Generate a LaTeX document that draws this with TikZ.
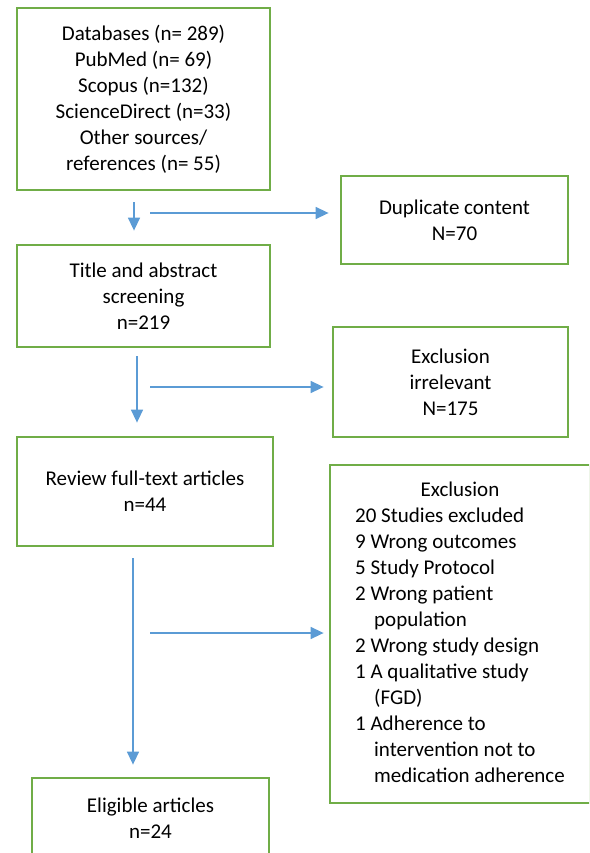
\documentclass[tikz,border=0pt]{standalone}
\usepackage{fontspec}
\setmainfont{Carlito}
\usetikzlibrary{arrows.meta}

\definecolor{boxgreen}{RGB}{112,173,71}
\definecolor{arrowblue}{RGB}{91,155,213}

\begin{document}
\begin{tikzpicture}[
    x=1pt, y=-1pt, >={Triangle[length=13pt,width=12pt]},
    stage/.style={draw=boxgreen, line width=2.8pt, align=center,
        font=\fontsize{21}{26}\selectfont},
    flow/.style={->, draw=arrowblue, line width=1.5pt}
]
    \useasboundingbox (0,0) rectangle (589,853);
    \clip (0,0) rectangle (589,853);

    % main column
    \node[stage, minimum width=253pt, minimum height=182pt] (db) at (143.5,99)
        {Databases (n= 289)\\PubMed (n= 69)\\Scopus (n=132)\\ScienceDirect (n=33)\\Other sources/\\references (n= 55)};
    \node[stage, minimum width=253pt, minimum height=102pt] (title) at (143.5,296)
        {Title and abstract\\screening\\n=219};
    \node[stage, minimum width=256pt, minimum height=109pt] (review) at (145,491.5)
        {Review full-text articles\\n=44};
    \node[stage, minimum width=237pt, minimum height=80pt] (elig) at (150.5,818)
        {Eligible articles\\n=24};

    % exclusions
    \node[stage, minimum width=227pt, minimum height=88pt] (dup) at (454.5,220)
        {Duplicate content\\N=70};
    \node[stage, minimum width=235pt, minimum height=110pt] (irr) at (450.5,382)
        {Exclusion\\irrelevant\\N=175};
    \node[stage, minimum width=260pt, minimum height=338pt] (excl) at (460,634)
        {\begin{tabular}{@{}l@{}}
            \multicolumn{1}{@{}c@{}}{Exclusion}\\
            20 Studies excluded\\
            9 Wrong outcomes\\
            5 Study Protocol\\
            2 Wrong patient\\
            \hspace*{19pt}population\\
            2 Wrong study design\\
            1 A qualitative study\\
            \hspace*{19pt}(FGD)\\
            1 Adherence to\\
            \hspace*{19pt}intervention not to\\
            \hspace*{19pt}medication adherence
        \end{tabular}};

    % side branches start here
    \coordinate (b1) at (150,213);
    \coordinate (b2) at (150,387);
    \coordinate (b3) at (150,633);

    \draw[flow, shorten <=11pt, shorten >=13pt] ([xshift=-9.5pt]db.south) -- ([xshift=-9.5pt]title.north);
    \draw[flow, shorten <=8pt, shorten >=13pt] ([xshift=-6.5pt]title.south) -- ([xshift=-6.5pt]title.south |- review.north);
    \draw[flow, shorten <=11pt, shorten >=12pt] ([xshift=-12pt]review.south) -- ([xshift=-17.5pt]elig.north);

    \draw[flow, shorten >=11pt] (b1) -- (b1 -| dup.west);
    \draw[flow, shorten >=8pt] (b2) -- (b2 -| irr.west);
    \draw[flow, shorten >=5pt] (b3) -- (b3 -| excl.west);

\end{tikzpicture}
\end{document}
